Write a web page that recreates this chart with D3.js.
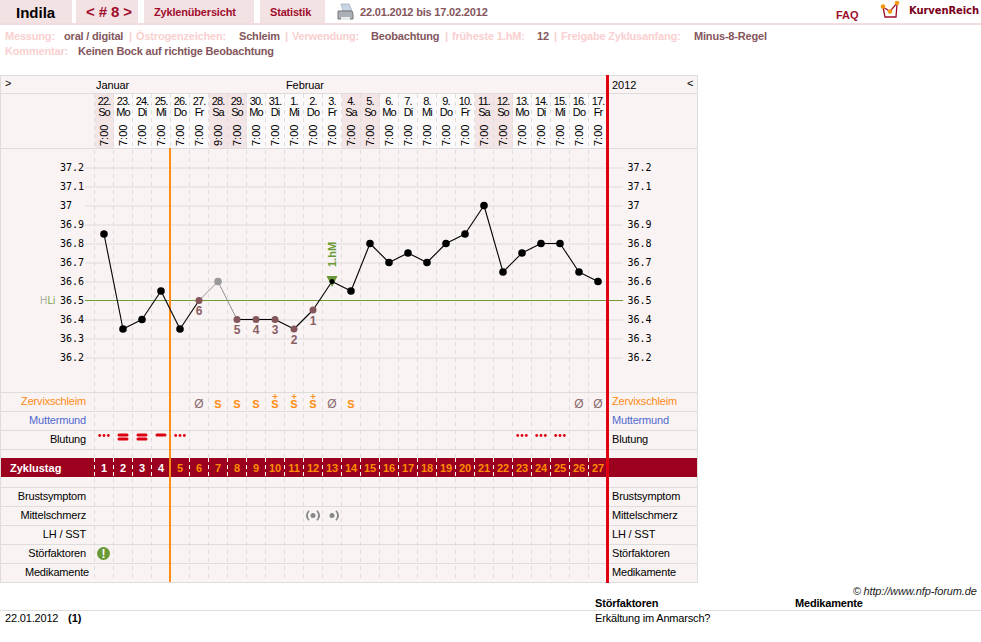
<!DOCTYPE html>
<html><head><meta charset="utf-8">
<script src="https://cdn.jsdelivr.net/npm/d3@7/dist/d3.min.js"></script>
<style>
html,body{margin:0;padding:0;background:#fff;overflow:hidden}
svg{display:block}
text{font-family:"Liberation Sans",Arial,sans-serif;font-size:11px}
</style></head><body><svg id="c" width="981" height="642"></svg>
<script>
const dayNumbers=["22.","23.","24.","25.","26.","27.","28.","29.","30.","31.","1.","2.","3.","4.","5.","6.","7.","8.","9.","10.","11.","12.","13.","14.","15.","16.","17."];
const weekdays=["So","Mo","Di","Mi","Do","Fr","Sa","So","Mo","Di","Mi","Do","Fr","Sa","So","Mo","Di","Mi","Do","Fr","Sa","So","Mo","Di","Mi","Do","Fr"];
const times=["7:00","7:00","7:00","7:00","7:00","7:00","9:00","7:00","7:00","7:00","7:00","7:00","7:00","7:00","7:00","7:00","7:00","7:00","7:00","7:00","7:00","7:00","7:00","7:00","7:00","7:00","7:00"];
const temps=[36.85,36.35,36.4,36.55,36.35,36.5,36.6,36.4,36.4,36.4,36.35,36.45,36.6,36.55,36.8,36.7,36.75,36.7,36.8,36.85,37,36.65,36.75,36.8,36.8,36.65,36.6];
const cycleDays=d3.range(1,28);
const tempTicks=[37.2,37.1,37,36.9,36.8,36.7,36.6,36.5,36.4,36.3,36.2];
const hiLine=36.5;
const lowCount=[[5,"6"],[7,"5"],[8,"4"],[9,"3"],[10,"2"],[11,"1"]];
const greyDays=[6];
const peakDay=12;
const mucus=[[5,"Ø"],[6,"S"],[7,"S"],[8,"S"],[9,"S+"],[10,"S+"],[11,"S+"],[12,"Ø"],[13,"S"],[25,"Ø"],[26,"Ø"]];
const bleeding=[[0,"dots"],[1,"two"],[2,"two"],[3,"one"],[4,"dots"],[22,"dots"],[23,"dots"],[24,"dots"]];
const painMarks=[[11,"both"],[12,"right"]];
const topRows=["Zervixschleim","Muttermund","Blutung"];
const topRowColors=["#ff8a14","#5069d0","#000"];
const bottomRows=["Brustsymptom","Mittelschmerz","LH / SST","Störfaktoren","Medikamente"];
const metaRow1=[["Messung:",5,0],["oral / digital",64,1],["|",129,0],["Östrogenzeichen:",136,0],["Schleim",239,1],["|",285,0],["Verwendung:",292,0],["Beobachtung",371,1],["|",445,0],["früheste 1.hM:",452,0],["12",537,1],["|",554,0],["Freigabe Zyklusanfang:",561,0],["Minus-8-Regel",694,1]];
const metaRow2=[["Kommentar:",5,0],["Keinen Bock auf richtige Beobachtung",78,1]];
const tabs=[[0,72],[76,138],[144,254],[260,325]];

const svg=d3.select("#c");
const GRID="#dfdcdc",PANEL="#f9f3f3",PINK="#f3e2e3",DARK="#a00d2c",BROWN="#84565c";
const txt=(g,s,x,y,o={})=>{const t=g.append("text").attr("x",x).attr("y",y).text(s);
  t.style("font-size",(o.size||11)+"px").style("font-weight",o.bold?"bold":"normal").attr("fill",o.fill||"#000");
  if(o.anchor)t.attr("text-anchor",o.anchor); if(o.italic)t.style("font-style","italic");
  t.style("letter-spacing",(o.ls===undefined?-0.18:o.ls)+"px"); if(o.family)t.style("font-family",o.family); return t;};

const xBand=d3.scaleBand().domain(d3.range(27)).range([94.5,607.5]);
const cx=i=>xBand(i)+xBand.bandwidth()/2;
const y=d3.scaleLinear().domain([36.2,37.2]).range([357.5,167.5]);

// page header
tabs.forEach(t=>svg.append("rect").attr("x",t[0]).attr("y",0).attr("width",t[1]-t[0]).attr("height",23).attr("fill",PINK));
svg.append("rect").attr("x",0).attr("y",23).attr("width",981).attr("height",2).attr("fill","#f3dcde");
txt(svg,"Indila",16,18,{size:15,bold:true,ls:0});
txt(svg,"< # 8 >",86,17,{size:15,bold:true,fill:DARK,ls:-.1});
txt(svg,"Zyklenübersicht",154,16,{bold:true,fill:DARK});
txt(svg,"Statistik",270,16,{bold:true,fill:DARK});
txt(svg,"22.01.2012 bis 17.02.2012",360,16,{bold:true,fill:BROWN});
txt(svg,"FAQ",836,19,{bold:true,fill:DARK,ls:0});
txt(svg,"KurvenReich",909,14,{size:10,bold:true,fill:"#7a0020",family:"DejaVu Sans",ls:-.1});
// printer icon
const pr=svg.append("g");
pr.append("path").attr("d","M341 4h8l3 7h-9z").attr("fill","#c9d6e6").attr("stroke","#8899aa").attr("stroke-width",.6);
pr.append("path").attr("d","M338 11h14l1 3v5h-15v-5z").attr("fill","#aab0b6").attr("stroke","#777");
pr.append("rect").attr("x",341).attr("y",17).attr("width",9).attr("height",3).attr("fill","#e8eaec");
// logo
const lg=svg.append("g");
lg.append("path").attr("d","M883 7L885 17H896L897 4").attr("fill","none").attr("stroke","#a00d2c").attr("stroke-width",1.3);
lg.append("path").attr("d","M883 7L890 11.5L897 3").attr("fill","none").attr("stroke","#a00d2c").attr("stroke-width",1.2);
[[883,6.5],[890,11.5],[897,3]].forEach(p=>lg.append("circle").attr("cx",p[0]).attr("cy",p[1]).attr("r",2.3).attr("fill","#f59a10"));

// meta
metaRow1.forEach(m=>txt(svg,m[0],m[1],40,{bold:true,fill:m[2]?BROWN:"#f9cfcf"}));
metaRow2.forEach(m=>txt(svg,m[0],m[1],55,{bold:true,fill:m[2]?BROWN:"#f9cfcf"}));

// panel
svg.append("rect").attr("x",.5).attr("y",75.5).attr("width",697).attr("height",507).attr("fill",PANEL).attr("stroke",GRID);
// header cells
const cells=svg.append("g");
cells.selectAll("rect").data(d3.range(27)).join("rect")
  .attr("x",i=>xBand(i)+.5).attr("y",94).attr("width",19).attr("height",54)
  .attr("fill",i=>(weekdays[i]==="Sa"||weekdays[i]==="So")?"#f3e4e5":"#fbf9f9");
// horizontal rules
const rules=[93.5,148.5,392.5,411.5,430.5,449.5,487.5,506.5,525.5,544.5,563.5];
svg.append("g").selectAll("line").data(rules).join("line")
  .attr("x1",0).attr("x2",697).attr("y1",d=>d).attr("y2",d=>d).attr("stroke",GRID);
// dashed verticals
const dash=svg.append("g");
dash.selectAll("line").data(d3.range(27)).join("line")
  .attr("x1",i=>xBand(i)).attr("x2",i=>xBand(i)).attr("y1",94).attr("y2",582)
  .attr("stroke",GRID).attr("stroke-dasharray","4,4");

// temperature axes + grid
const MONO='"DejaVu Sans Mono",monospace';
const axL=svg.append("g").attr("transform","translate(85,0)")
  .call(d3.axisRight(y).tickValues(tempTicks).tickSize(538).tickFormat(d3.format("~g")));
axL.select(".domain").remove();
axL.selectAll("line").attr("stroke",GRID).attr("stroke-width",1).filter(d=>d===hiLine).attr("stroke-opacity",0);
axL.selectAll("text").attr("x",-25).attr("dy",3).attr("text-anchor","start").attr("fill","#000").style("font-size","10px").style("font-family",MONO);
const axR=svg.append("g").attr("transform","translate(627.5,0)")
  .call(d3.axisRight(y).tickValues(tempTicks).tickSize(0).tickPadding(0).tickFormat(d3.format("~g")));
axR.select(".domain").remove();
axR.selectAll("text").attr("dy",3).attr("fill","#000").style("font-size","10px").style("font-family",MONO);
svg.append("line").attr("x1",85).attr("x2",623).attr("y1",Math.floor(y(hiLine))+.5).attr("y2",Math.floor(y(hiLine))+.5).attr("stroke","#6c9c33");
txt(svg,"H",40,304,{size:10,fill:"#a8b0a0",ls:0});
txt(svg,"Li",47.5,304,{size:10,fill:"#79a34a",ls:0});

// header text
txt(svg,">",5,87,{size:11,ls:0});
txt(svg,"<",687,87,{size:11,ls:0});
txt(svg,"Januar",96,89,{ls:-.1});txt(svg,"Februar",286,89,{ls:-.1});txt(svg,"2012",612,89,{ls:0});
const hdr=svg.append("g");
d3.range(27).forEach(i=>{
  txt(hdr,dayNumbers[i],cx(i),105,{size:11,anchor:"middle",ls:-.9});
  txt(hdr,weekdays[i],cx(i),115.5,{size:11,anchor:"middle",ls:-.9});
  txt(hdr,times[i],0,0,{size:11,anchor:"start",ls:0}).attr("transform",`translate(${cx(i)+4},146) rotate(-90)`);
});

// row labels
topRows.forEach((r,i)=>{
  const yy=405+i*19;
  txt(svg,r,86,yy,{anchor:"end",fill:topRowColors[i]});
  txt(svg,r,612,yy,{fill:topRowColors[i]});
});
bottomRows.forEach((r,i)=>{
  const yy=500+i*19;
  txt(svg,r,r==="Medikamente"?89:86,yy,{anchor:"end"});
  txt(svg,r,612,yy);
});

// cycle banner
svg.append("rect").attr("x",1).attr("y",458).attr("width",696).attr("height",19).attr("fill","#9b001f");
txt(svg,"Zyklustag",10,472,{bold:true,fill:"#fff",ls:0});
svg.append("g").selectAll("line").data(d3.range(27)).join("line")
  .attr("x1",i=>xBand(i)).attr("x2",i=>xBand(i)).attr("y1",458).attr("y2",477)
  .attr("stroke","#fff").attr("stroke-dasharray","4,3");
cycleDays.forEach((d,i)=>txt(svg,String(d),cx(i),472,{size:11,bold:true,anchor:"middle",fill:i<4?"#fff":"#ff8c00",ls:0}));

// phase lines
svg.append("rect").attr("x",169).attr("y",148).attr("width",2).attr("height",434).attr("fill","#ff8c14");
svg.append("rect").attr("x",606).attr("y",75).attr("width",3).attr("height",508).attr("fill","#e00010");

// mucus
const mg=svg.append("g");
mucus.forEach(m=>{
  const c=cx(m[0]);
  if(m[1]==="Ø"){txt(mg,"Ø",c,408,{size:12,anchor:"middle",fill:"#8a6a6e",ls:0});return;}
  txt(mg,"S",c,408,{size:11,bold:true,anchor:"middle",fill:"#ff8c14",ls:0});
  if(m[1]==="S+")mg.append("path").attr("d",`M${c-2.5} 396.5H${c+2.5}M${c} 394V399`).attr("stroke","#ff8c14").attr("fill","none");
});
// bleeding
const bl=svg.append("g");
bleeding.forEach(b=>{
  const c=cx(b[0]);
  if(b[1]==="dots")[-4.3,0,4.3].forEach(o=>bl.append("circle").attr("cx",c+o).attr("cy",435.5).attr("r",1.4).attr("fill","#dd0010"));
  else (b[1]==="two"?[435,439]:[435]).forEach(yy=>bl.append("rect").attr("x",c-5.5).attr("y",yy-1.5).attr("width",11).attr("height",3).attr("rx",1.5).attr("fill","#dd0010"));
});
// mittelschmerz
const ms=svg.append("g");
painMarks.forEach(p=>{
  const c=cx(p[0]),yy=515.5;
  ms.append("circle").attr("cx",c).attr("cy",yy).attr("r",2.5).attr("fill","#888");
  ms.append("path").attr("d",`M${c+4} ${yy-4.8}Q${c+8.2} ${yy} ${c+4} ${yy+4.8}`).attr("fill","none").attr("stroke","#888").attr("stroke-width",1.7);
  if(p[1]==="both")ms.append("path").attr("d",`M${c-4} ${yy-4.8}Q${c-8.2} ${yy} ${c-4} ${yy+4.8}`).attr("fill","none").attr("stroke","#888").attr("stroke-width",1.7);
});
// störfaktor
svg.append("circle").attr("cx",cx(0)-.5).attr("cy",553.5).attr("r",6.5).attr("fill","#6a9a35");
txt(svg,"!",cx(0)-.5,558,{size:12,bold:true,fill:"#fff",anchor:"middle",ls:0});

// temperature line
const lg2=svg.append("g");
d3.range(26).forEach(i=>{
  const grey=greyDays.includes(i)||greyDays.includes(i+1);
  lg2.append("line").attr("x1",cx(i)).attr("y1",y(temps[i])).attr("x2",cx(i+1)).attr("y2",y(temps[i+1]))
    .attr("stroke",grey?"#888":"#000").attr("stroke-width",grey?.9:1.1);
});
const lowIdx=lowCount.map(d=>d[0]);
// peak marker
svg.append("path").attr("d",d3.line()([[cx(peakDay)-5.5,y(temps[peakDay])-5.5],[cx(peakDay)+5.5,y(temps[peakDay])-5.5],[cx(peakDay),y(temps[peakDay])+5.5]])).attr("fill","#6a9a35");
svg.append("text").text("1.hM").attr("transform",`translate(${cx(peakDay)+4},267) rotate(-90)`)
  .style("font-size","11px").style("font-weight","bold").attr("fill","#6a9a35");
svg.append("g").selectAll("circle").data(temps).join("circle")
  .attr("cx",(d,i)=>cx(i)).attr("cy",d=>y(d))
  .attr("r",(d,i)=>i===peakDay?2.5:(lowIdx.includes(i)?3.5:3.8))
  .attr("fill",(d,i)=>greyDays.includes(i)?"#999":lowIdx.includes(i)?BROWN:"#000");
lowCount.forEach(l=>txt(svg,l[1],cx(l[0]),y(temps[l[0]])+14.5,{size:12,bold:true,anchor:"middle",fill:"#8a5f65",ls:0}));

// footer
txt(svg,"©",853,595,{size:11,fill:"#222",ls:0});
txt(svg,"http://www.nfp-forum.de",863.5,595,{size:11,italic:true,fill:"#222",ls:-0.13});
txt(svg,"Störfaktoren",595,607,{bold:true});
txt(svg,"Medikamente",795,607,{bold:true});
svg.append("line").attr("x1",0).attr("x2",981).attr("y1",610.5).attr("y2",610.5).attr("stroke",GRID);
txt(svg,"22.01.2012",5,622);
txt(svg,"(1)",68,622,{bold:true,ls:0});
txt(svg,"Erkältung im Anmarsch?",595,622);
</script></body></html>
